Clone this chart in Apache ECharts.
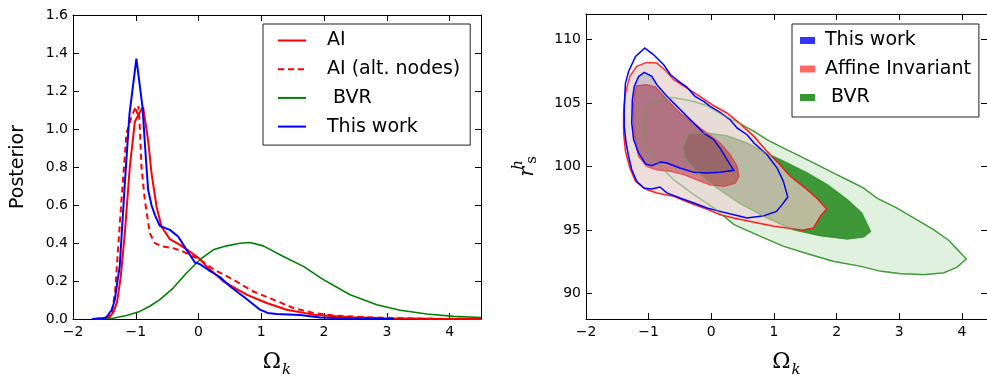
<!DOCTYPE html>
<html>
<head>
<meta charset="utf-8">
<script src="https://cdn.jsdelivr.net/npm/echarts@6/dist/echarts.min.js"></script>
<style>
  html, body { margin: 0; padding: 0; background: #fff; }
  #chart { width: 987px; height: 377px; }
</style>
</head>
<body>
<div id="chart"></div>
<script>
// ---- left panel: 1D posteriors of Omega_k ----
const aiSolid = [
  [-1.65, 0], [-1.5, 0.004], [-1.415, 0.01], [-1.35, 0.04], [-1.298, 0.09], [-1.24, 0.22],
  [-1.175, 0.451], [-1.095, 0.80], [-1.015, 1.038], [-0.95, 1.08], [-0.883, 1.115],
  [-0.803, 0.94], [-0.749, 0.767], [-0.669, 0.591], [-0.589, 0.486], [-0.457, 0.42],
  [-0.297, 0.39], [-0.138, 0.355], [0.022, 0.315], [0.128, 0.277], [0.394, 0.198],
  [0.766, 0.128], [1.085, 0.084], [1.404, 0.049], [1.83, 0.023], [2.415, 0.009],
  [2.947, 0.004], [3.745, 0.001], [4.5, 0]
];
const aiAltNodes = [
  [-1.65, 0], [-1.5, 0.004], [-1.388, 0.023], [-1.33, 0.137], [-1.228, 0.627],
  [-1.148, 0.977], [-1.068, 1.064], [-1.0, 1.117], [-0.975, 1.08], [-0.955, 1.12],
  [-0.936, 1.012], [-0.909, 0.80], [-0.856, 0.627], [-0.776, 0.452], [-0.696, 0.399],
  [-0.564, 0.381], [-0.404, 0.373], [-0.245, 0.355], [-0.085, 0.329], [0.021, 0.312],
  [0.234, 0.263], [0.553, 0.207], [0.872, 0.145], [1.191, 0.102], [1.511, 0.058],
  [1.83, 0.032], [2.149, 0.018], [2.681, 0.009], [3.479, 0.002], [4.5, 0]
];
const bvrCurve = [
  [-1.65, 0], [-1.362, 0.004], [-1.149, 0.018], [-0.936, 0.04], [-0.777, 0.067],
  [-0.617, 0.102], [-0.404, 0.163], [-0.191, 0.242], [0.021, 0.312], [0.234, 0.364],
  [0.447, 0.385], [0.66, 0.399], [0.819, 0.403], [1.032, 0.385], [1.351, 0.329],
  [1.67, 0.277], [1.989, 0.207], [2.415, 0.128], [2.84, 0.075], [3.213, 0.046],
  [3.638, 0.026], [4.064, 0.014], [4.5, 0.008]
];
const thisWorkCurve = [
  [-1.70, 0], [-1.55, 0.002], [-1.47, 0.008], [-1.44, 0.014], [-1.38, 0.05], [-1.335, 0.10],
  [-1.30, 0.18], [-1.255, 0.28], [-1.175, 0.71], [-1.10, 1.08], [-0.99, 1.37],
  [-0.893, 1.117], [-0.84, 0.85], [-0.803, 0.68], [-0.75, 0.60], [-0.696, 0.548],
  [-0.617, 0.49], [-0.457, 0.469], [-0.325, 0.434], [-0.19, 0.364], [-0.058, 0.297],
  [0.022, 0.289], [0.154, 0.259], [0.34, 0.221], [0.5, 0.172], [0.766, 0.105],
  [0.90, 0.07], [0.979, 0.049], [1.10, 0.032], [1.245, 0.026], [1.617, 0.021],
  [1.936, 0.008], [2.3, 0.004], [2.7, 0.002], [3.1, 0]
];

// ---- right panel: 2D contours (outer, inner) in (Omega_k, r_s^h) ----
const bvrOuter = [[-0.65,105.44],[-0.91,105.12],[-1.03,104.6],[-1.07,103.68],[-1.07,102.37],[-1.0,101.32],[-0.84,100.14],[-0.6,98.96],[-0.28,97.79],[0.04,96.74],[0.36,95.43],[0.78,94.51],[1.15,93.72],[1.58,93.07],[1.95,92.54],[2.38,92.15],[2.7,91.76],[3.02,91.57],[3.39,91.49],[3.71,91.63],[3.92,92.07],[4.07,92.73],[3.92,93.51],[3.79,94.19],[3.55,95.03],[3.34,95.64],[2.96,96.74],[2.64,97.52],[2.43,98.31],[2.22,98.83],[1.95,99.49],[1.69,100.14],[1.42,100.8],[1.15,101.45],[0.89,102.11],[0.68,102.77],[0.46,103.37],[0.25,103.89],[0.06,104.39],[-0.07,104.78],[-0.28,105.12],[-0.47,105.31]];
const bvrInner = [[-0.36,102.58],[-0.07,102.63],[0.25,102.42],[0.57,101.85],[0.89,101.01],[1.21,100.28],[1.53,99.49],[1.85,98.57],[2.17,97.39],[2.4,96.34],[2.54,94.9],[2.43,94.46],[2.17,94.3],[1.74,94.56],[1.31,95.03],[0.89,95.95],[0.46,97.08],[0.09,98.31],[-0.2,99.49],[-0.42,100.67],[-0.45,101.59]];
const aiOuter = [[-1.03,108.19],[-0.87,108.14],[-0.73,107.56],[-0.6,106.83],[-0.39,106.17],[-0.18,105.52],[0.04,104.78],[0.25,104.21],[0.46,103.37],[0.68,102.37],[0.89,101.19],[1.07,100.28],[1.26,99.23],[1.53,98.18],[1.71,97.39],[1.84,96.66],[1.74,96.08],[1.63,95.16],[1.45,94.98],[1.21,95.16],[1.0,95.29],[0.68,95.61],[0.36,95.95],[0.14,96.21],[-0.12,96.74],[-0.34,97.13],[-0.6,97.65],[-0.87,97.92],[-1.05,98.23],[-1.21,98.83],[-1.3,99.88],[-1.37,101.19],[-1.4,102.63],[-1.4,104.21],[-1.37,105.78],[-1.3,107.09],[-1.19,107.88]];
const aiInner = [[-1.19,106.36],[-1.03,106.44],[-0.89,106.25],[-0.71,105.26],[-0.5,104.21],[-0.28,103.42],[-0.07,102.63],[0.14,101.85],[0.3,100.93],[0.41,100.01],[0.44,99.23],[0.38,98.7],[0.2,98.44],[-0.02,98.57],[-0.23,98.96],[-0.44,99.36],[-0.65,99.62],[-0.87,99.75],[-1.03,100.01],[-1.16,100.8],[-1.21,101.85],[-1.24,103.16],[-1.24,104.73],[-1.22,105.73]];
const twOuter = [[-1.06,109.32],[-0.92,108.79],[-0.76,108.01],[-0.65,107.22],[-0.52,106.7],[-0.39,106.25],[-0.26,105.52],[-0.12,105.12],[-0.02,104.73],[0.14,104.26],[0.3,103.68],[0.41,103.03],[0.57,102.5],[0.68,101.85],[0.89,100.93],[1.05,99.88],[1.15,98.83],[1.22,97.6],[1.13,97.0],[1.04,96.47],[0.84,96.13],[0.57,95.95],[0.36,96.21],[0.14,96.47],[-0.07,96.74],[-0.28,97.13],[-0.5,97.52],[-0.71,97.92],[-0.82,98.39],[-0.95,98.23],[-1.08,98.31],[-1.19,98.83],[-1.27,99.75],[-1.32,100.8],[-1.36,101.85],[-1.39,103.16],[-1.39,104.73],[-1.37,106.57],[-1.32,107.48],[-1.21,108.66]];
const twInner = [[-1.07,107.41],[-0.95,107.09],[-0.87,106.44],[-0.73,105.65],[-0.6,104.99],[-0.44,104.21],[-0.28,103.42],[-0.12,102.63],[0.04,102.11],[0.14,101.45],[0.22,100.8],[0.3,100.14],[0.36,99.7],[0.14,99.54],[-0.07,99.49],[-0.28,99.54],[-0.5,99.88],[-0.71,100.28],[-0.81,100.35],[-0.95,100.07],[-1.05,100.2],[-1.16,101.06],[-1.24,102.11],[-1.27,103.42],[-1.26,105.26],[-1.23,106.3],[-1.16,107.09]];

// tick labels
const omegaTicks = [-2, -1, 0, 1, 2, 3, 4];
const rsTicks = [90, 95, 100, 105, 110];

const FONT = 'DejaVu Sans';
const SERIF = 'DejaVu Serif';
const minus = v => (v < 0 ? '\u2212' + Math.abs(v) : String(v));

const chart = echarts.init(document.getElementById('chart'));

function frameAxis(grid, pos, extra) {
  return Object.assign({
    gridIndex: grid,
    type: 'value',
    position: pos,
    axisLine: {show: true, onZero: false, lineStyle: {color: '#000', width: 1}},
    axisTick: {show: true, inside: true, length: 6, lineStyle: {color: '#000', width: 1}},
    axisLabel: {show: false},
    splitLine: {show: false}
  }, extra);
}

const tickLabel = {fontFamily: FONT, fontSize: 14, color: '#000'};
const omegaName = {
  name: '{o|\u03A9}{k|k}',
  nameLocation: 'middle',
  nameGap: 32,
  nameTextStyle: {
    rich: {
      o: {fontFamily: SERIF, fontSize: 22, color: '#000', verticalAlign: 'top'},
      k: {fontFamily: SERIF, fontStyle: 'italic', fontSize: 15, color: '#000', verticalAlign: 'top', padding: [12, 0, 0, 1]}
    }
  }
};

function contour(name, polys, styles, color, z) {
  return {
    type: 'custom',
    name: name,
    xAxisIndex: 2,
    yAxisIndex: 2,
    z: z,
    silent: true,
    clip: true,
    itemStyle: {color: color},
    data: polys.map(p => p[0]),
    renderItem: function (params, api) {
      const pts = polys[params.dataIndex].map(p => api.coord(p));
      const s = styles[params.dataIndex];
      return {
        type: 'polygon',
        shape: {points: pts},
        style: {fill: s.fill, stroke: s.stroke, lineWidth: s.width}
      };
    }
  };
}

chart.setOption({
  animation: false,
  backgroundColor: '#fff',
  grid: [
    {left: 73, top: 15, width: 408, height: 304, outerBoundsMode: 'none', containLabel: false},
    {left: 586, top: 14, width: 401, height: 305, outerBoundsMode: 'none', containLabel: false}
  ],
  xAxis: [
    frameAxis(0, 'bottom', Object.assign({
      min: -2, max: 4.5,
      axisTick: {show: true, inside: true, length: 6, customValues: omegaTicks, lineStyle: {color: '#000'}},
      axisLabel: Object.assign({show: true, margin: 6, customValues: omegaTicks, formatter: minus}, tickLabel)
    }, omegaName)),
    frameAxis(0, 'top', {min: -2, max: 4.5,
      axisTick: {show: true, inside: true, length: 6, customValues: omegaTicks, lineStyle: {color: '#000'}}}),
    frameAxis(1, 'bottom', Object.assign({
      min: -2, max: 4.4,
      axisTick: {show: true, inside: true, length: 6, customValues: omegaTicks, lineStyle: {color: '#000'}},
      axisLabel: Object.assign({show: true, margin: 6, customValues: omegaTicks, formatter: minus}, tickLabel)
    }, omegaName)),
    frameAxis(1, 'top', {min: -2, max: 4.4,
      axisTick: {show: true, inside: true, length: 6, customValues: omegaTicks, lineStyle: {color: '#000'}}})
  ],
  yAxis: [
    frameAxis(0, 'left', {
      min: 0, max: 1.6, interval: 0.2,
      axisLabel: Object.assign({show: true, margin: 5, formatter: v => v.toFixed(1)}, tickLabel),
      name: 'Posterior', nameLocation: 'middle', nameRotate: 90, nameGap: 45,
      nameTextStyle: {fontFamily: FONT, fontSize: 19, color: '#000'}
    }),
    frameAxis(0, 'right', {min: 0, max: 1.6, interval: 0.2}),
    frameAxis(1, 'left', {
      min: 88, max: 112,
      axisTick: {show: true, inside: true, length: 6, customValues: rsTicks, lineStyle: {color: '#000'}},
      axisLabel: Object.assign({show: true, margin: 5, customValues: rsTicks}, tickLabel),
      name: '{r|r}{h|h}{s|s}', nameLocation: 'middle', nameRotate: 90, nameGap: 46,
      nameTextStyle: {
        rich: {
          r: {fontFamily: SERIF, fontStyle: 'italic', fontSize: 21, color: '#000', verticalAlign: 'top', padding: [6, 1, 0, 0]},
          h: {fontFamily: SERIF, fontStyle: 'italic', fontSize: 15, color: '#000', verticalAlign: 'top', width: 2},
          s: {fontFamily: SERIF, fontSize: 15, color: '#000', verticalAlign: 'top', padding: [14, 0, 0, 0]}
        }
      }
    }),
    frameAxis(1, 'right', {min: 88, max: 112,
      axisTick: {show: true, inside: true, length: 6, customValues: rsTicks, lineStyle: {color: '#000'}}})
  ],
  legend: [
    {
      orient: 'vertical', left: 263, top: 24,
      padding: [7, 10, 9, 14], itemGap: 9.7, itemWidth: 28, itemHeight: 14,
      borderColor: '#222', borderWidth: 1, backgroundColor: '#fff',
      itemStyle: {opacity: 0},
      textStyle: {fontFamily: FONT, fontSize: 19, color: '#000', lineHeight: 19, padding: [0, 0, 0, 16]},
      data: ['AI', 'AI (alt. nodes)', ' BVR', 'This work']
    },
    {
      orient: 'vertical', left: 792, top: 24,
      padding: [7, 8, 10, 8], itemGap: 9.5, itemWidth: 15, itemHeight: 7,
      borderColor: '#222', borderWidth: 1, backgroundColor: '#fff',
      textStyle: {fontFamily: FONT, fontSize: 19, color: '#000', lineHeight: 19, padding: [0, 0, 0, 5]},
      data: [
        {name: 'This work ', icon: 'rect'},
        {name: 'Affine Invariant', icon: 'rect'},
        {name: ' BVR ', icon: 'rect'}
      ]
    }
  ],
  series: [
    {name: 'AI', type: 'line', data: aiSolid, symbol: 'none', xAxisIndex: 0, yAxisIndex: 0,
      color: '#ff0000', lineStyle: {color: '#ff0000', width: 2}},
    {name: 'AI (alt. nodes)', type: 'line', data: aiAltNodes, symbol: 'none', xAxisIndex: 0, yAxisIndex: 0,
      color: '#ff0000', lineStyle: {color: '#ff0000', width: 2, type: [6, 4]}},
    {name: ' BVR', type: 'line', data: bvrCurve, symbol: 'none', xAxisIndex: 0, yAxisIndex: 0,
      color: '#008000', lineStyle: {color: '#008000', width: 1.6}},
    {name: 'This work', type: 'line', data: thisWorkCurve, symbol: 'none', xAxisIndex: 0, yAxisIndex: 0,
      color: '#0000ff', lineStyle: {color: '#0000ff', width: 2}},

    contour(' BVR ', [bvrOuter, bvrInner], [
      {fill: 'rgba(0,140,0,0.12)', stroke: '#108a10', width: 1.2},
      {fill: 'rgba(0,140,0,0.72)', stroke: '#108a10', width: 1.2}
    ], '#339933', 1),
    contour('Affine Invariant', [aiOuter, aiInner], [
      {fill: 'rgba(240,216,208,0.8)', stroke: '#ff2020', width: 1.5},
      {fill: 'rgba(185,45,55,0.6)', stroke: '#f04545', width: 1.5}
    ], '#ff6666', 2),
    contour('This work ', [twOuter, twInner], [
      {fill: 'rgba(200,215,245,0.12)', stroke: '#0000ff', width: 1.5},
      {fill: 'rgba(50,60,120,0.18)', stroke: '#0000ff', width: 1.5}
    ], '#3333ff', 3),
    contour('bvr-overlay', [bvrOuter, bvrInner], [
      {fill: 'rgba(0,0,0,0)', stroke: 'rgba(110,170,90,0.45)', width: 1.5},
      {fill: 'rgba(60,40,0,0.12)', stroke: 'rgba(110,170,90,0.45)', width: 1.5}
    ], '#339933', 4)
  ]
});
</script>
</body>
</html>
